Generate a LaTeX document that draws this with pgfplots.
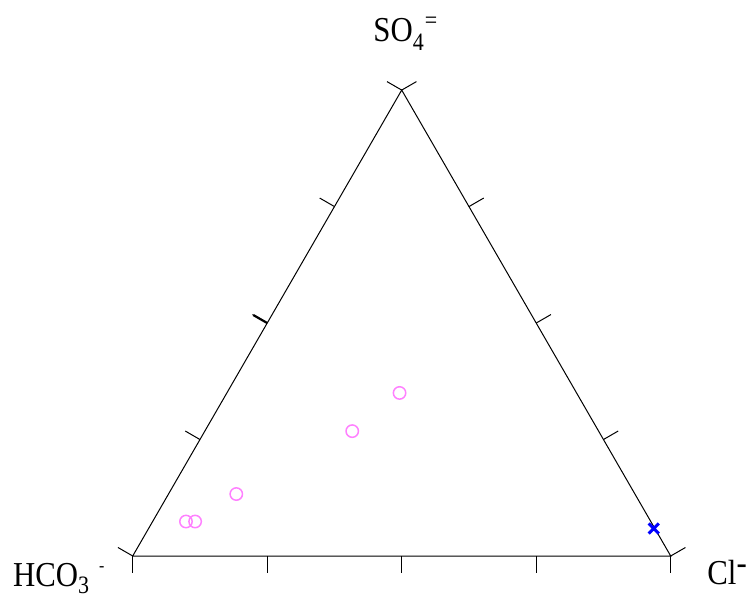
\documentclass[border=0pt]{standalone}
\usepackage{pgfplots}
\pgfplotsset{compat=1.18}
\usepackage{pgfplotstable}
\usepackage{fontspec}
\setmainfont{Liberation Serif}[FakeStretch=0.88]

% ternary compositions (fractions), Cl- / SO4= / HCO3-
\pgfplotstableread{
Cl    SO4   HCO3
0.062 0.074 0.864
0.079 0.074 0.847
0.126 0.133 0.741
0.274 0.268 0.458
0.321 0.350 0.329
}\samples
\pgfplotstableread{
Cl    SO4   HCO3
0.939 0.059 0.002
}\seawater

\definecolor{ptpink}{RGB}{255,128,255}
\tikzset{ternlabel/.style={anchor=base west, inner sep=0pt, font=\fontsize{17.5}{20}\selectfont}}
\newcommand{\subs}[2]{\raisebox{-#1}{\fontsize{12.5}{13}\selectfont #2}}
\newcommand{\sups}[2]{\raisebox{#1}{\fontsize{12.5}{13}\selectfont #2}}

\begin{document}
\begin{tikzpicture}
\begin{axis}[
    x=269pt, y=269pt,
    xmin=0, xmax=1, ymin=0, ymax=0.8660254,
    hide axis,
    clip=false,
    ]
% page extent
\path (axis cs:-0.2467,-0.0781) rectangle (axis cs:1.1567,1.0335);

% triangle
\addplot[black, line width=0.5pt, line cap=round, line join=miter] coordinates {
    (0,0) (1,0) (0.5,0.8660254) (0,0)
};

% ticks, pointing outward
\pgfplotsinvokeforeach{0,0.25,0.5,0.75,1}{
    \draw[line width=0.5pt] (axis cs:#1,0) -- ++(0,-8.5pt);
    \draw[line width=0.5pt] (axis cs:{0.5*#1},{0.8660254*#1}) -- ++(150:8.5pt);
    \draw[line width=0.5pt] (axis cs:{1-0.5*#1},{0.8660254*#1}) -- ++(30:8.5pt);
}
\draw[line width=1.1pt] (axis cs:0.25,0.4330127) -- ++(150:8pt);

\addplot[only marks, mark=o, mark size=3.1pt, color=ptpink, line width=0.75pt]
    table[x expr=\thisrow{Cl}+0.5*\thisrow{SO4}, y expr=0.8660254*\thisrow{SO4}] {\samples};
\addplot[only marks, mark=x, mark size=3.6pt, color=blue, line width=1.5pt]
    table[x expr=\thisrow{Cl}+0.5*\thisrow{SO4}, y expr=0.8660254*\thisrow{SO4}] {\seawater};

\node[ternlabel] at (axis cs:0.4467,0.956) {SO\subs{4.5pt}{4}\hspace{0.5pt}\sups{6.5pt}{=}};
\node[ternlabel] at (axis cs:-0.223,-0.0575) {HCO\subs{3.5pt}{3}\hspace{5pt}\sups{7.5pt}{\fontsize{9}{9}\selectfont -}};
\node[ternlabel] at (axis cs:1.0675,-0.0539) {Cl\raisebox{5.5pt}{-}};
\end{axis}
\end{tikzpicture}
\end{document}
